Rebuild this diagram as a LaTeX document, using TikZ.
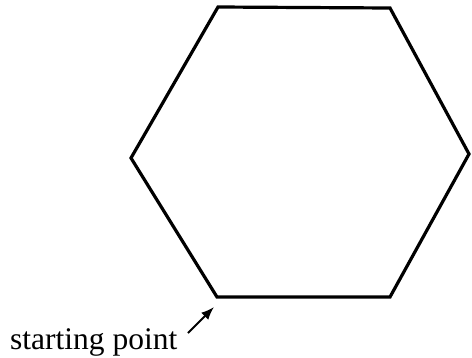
\documentclass[tikz,border=0pt]{standalone}
\usepackage{fontspec}
\setmainfont{Liberation Serif}
\usetikzlibrary{arrows.meta}
\begin{document}
\begin{tikzpicture}[x=1pt,y=-1pt,
  edge/.style={line width=3.2pt,line join=miter},
  pointer/.style={line width=2pt,-{Latex[length=13pt,width=10pt]}},
  lbl/.style={font=\fontsize{31.5}{32}\selectfont,inner sep=0pt,anchor=base west}]
\useasboundingbox (0,0) rectangle (472,357);
\coordinate (v1) at (218,7);
\coordinate (v2) at (390,8);
\coordinate (v3) at (469,154);
\coordinate (v4) at (390,297);
\coordinate (v5) at (217,297);
\coordinate (v6) at (131,158);
\draw[edge] (v1) -- (v2) -- (v3) -- (v4) -- (v5) -- (v6) -- cycle;
\node[lbl] (start) at (10,349) {starting point};
\coordinate (tail) at (188,333);
\draw[pointer] (tail) -- (214,307);
\end{tikzpicture}
\end{document}
